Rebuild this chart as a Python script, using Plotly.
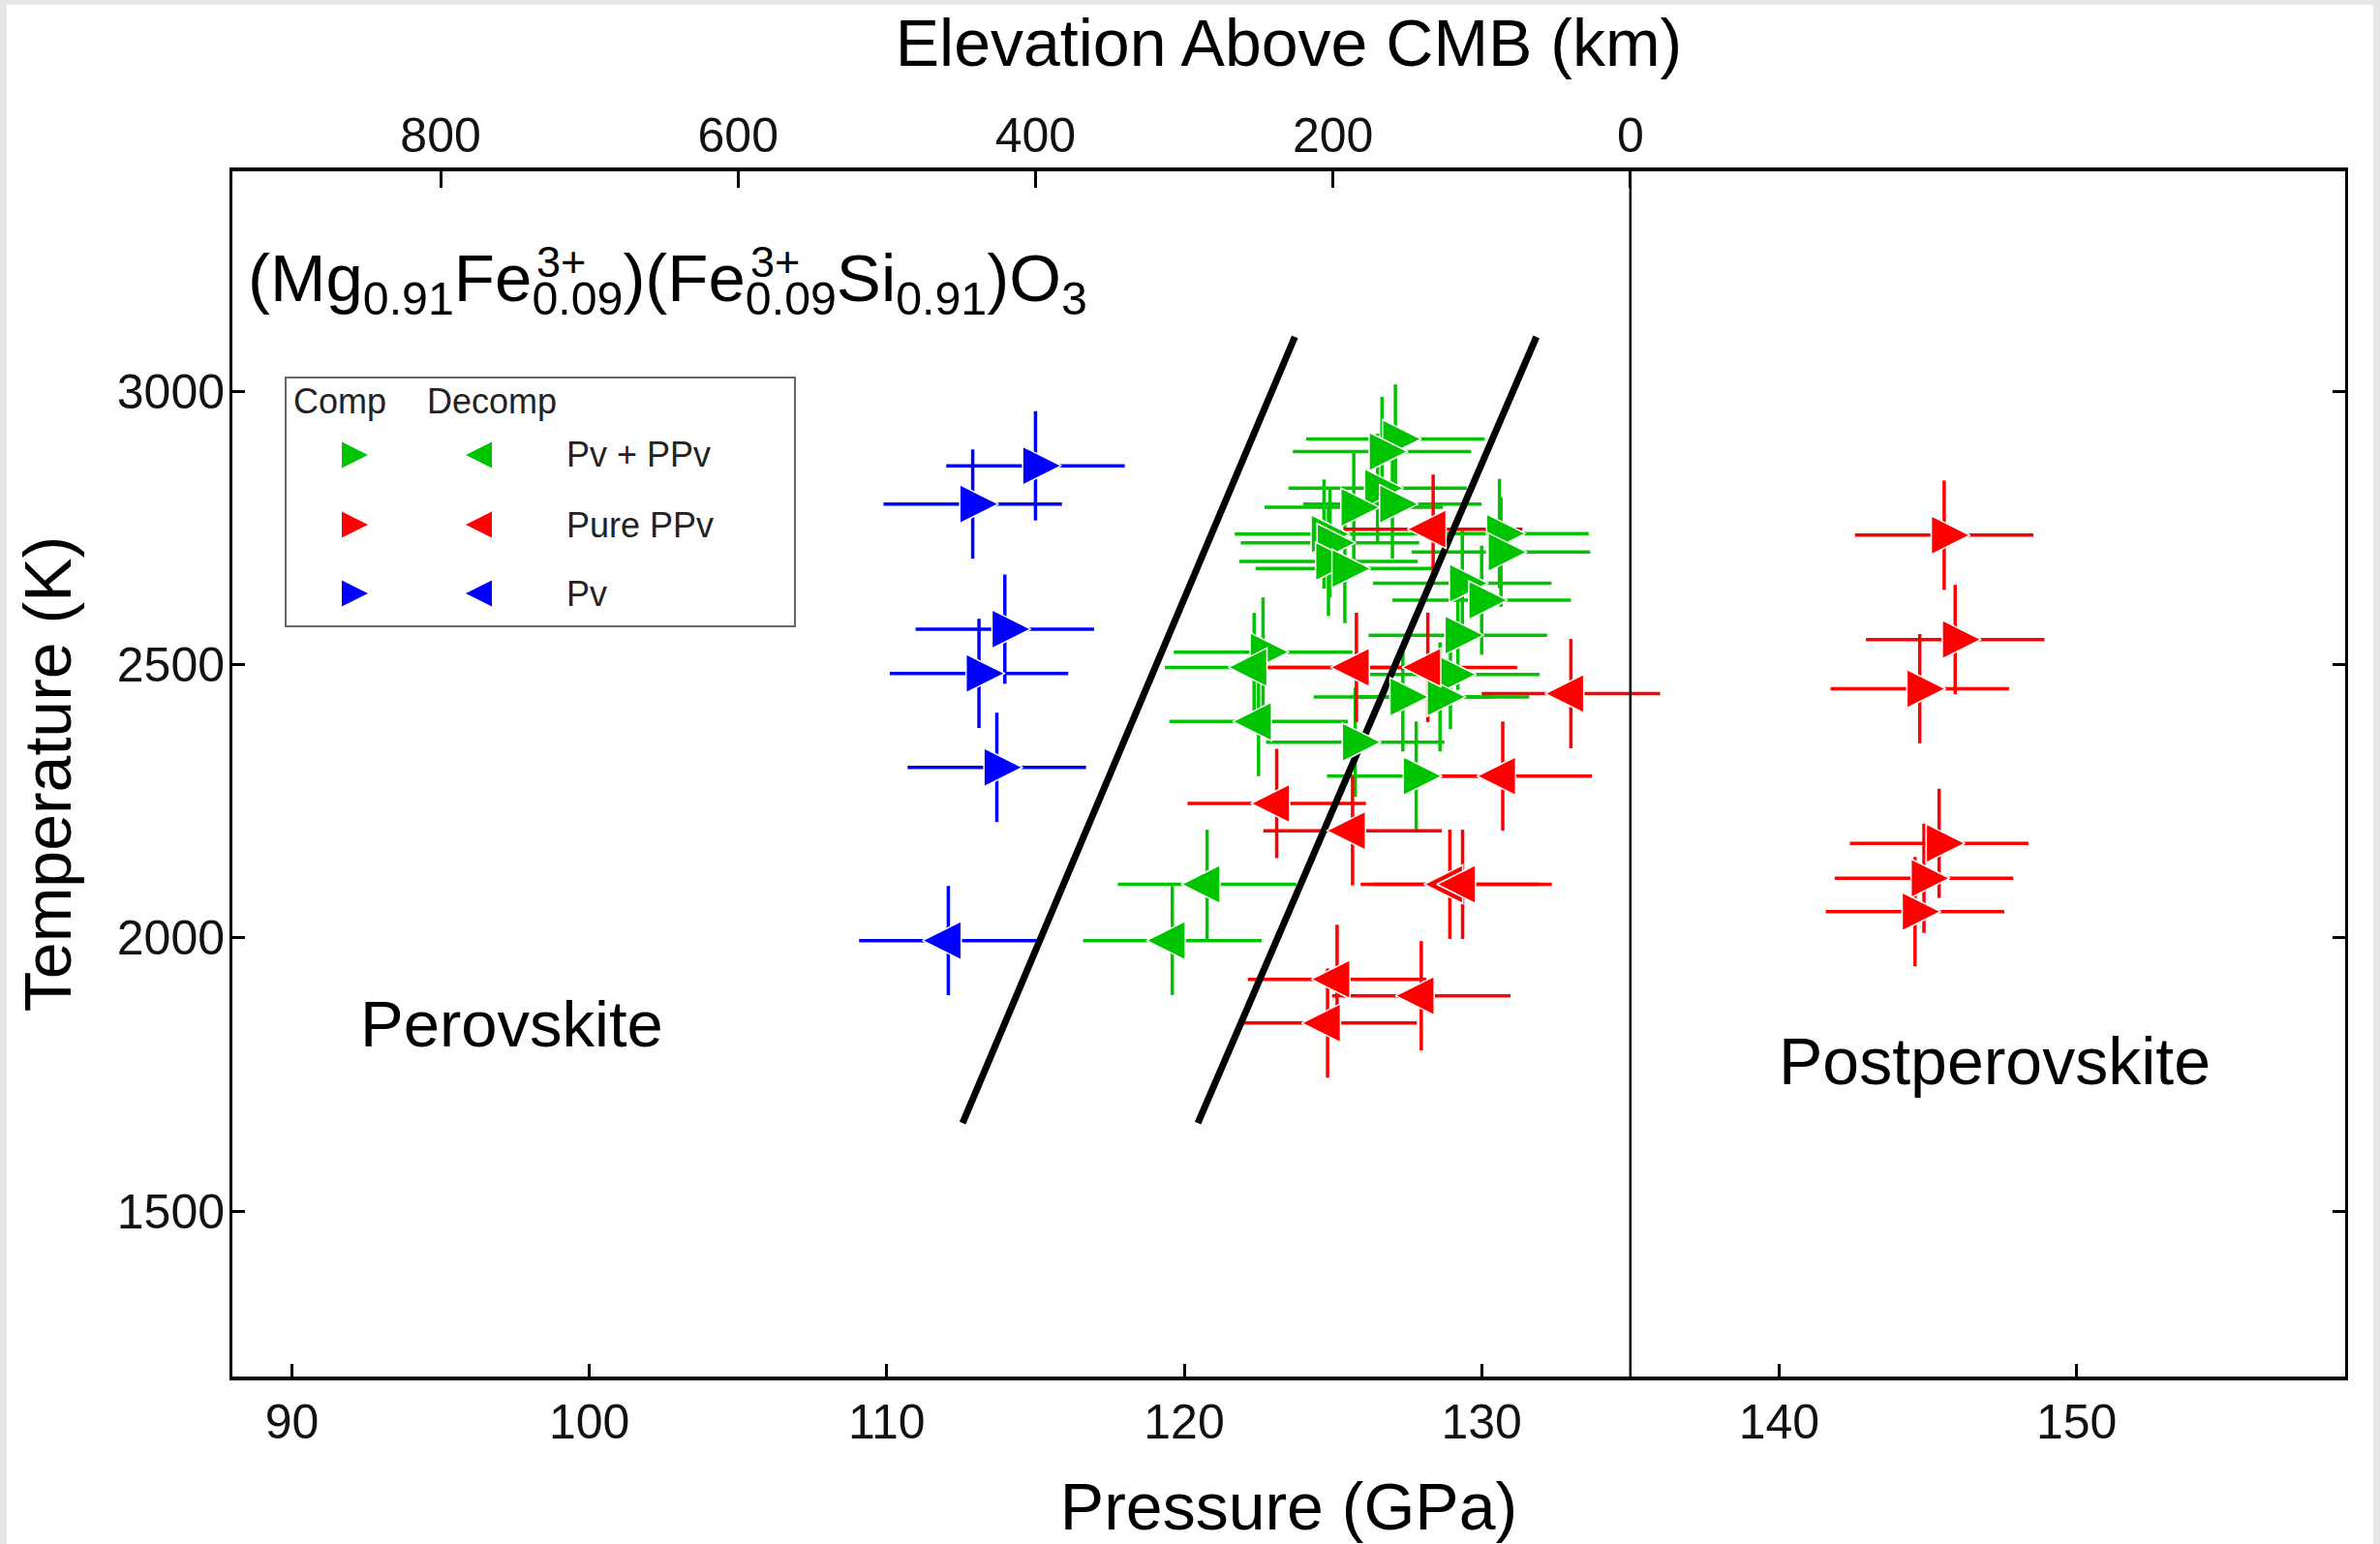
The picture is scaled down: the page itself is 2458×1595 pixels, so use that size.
import plotly.graph_objects as go

# ---------------- data ----------------
GREEN_COMP_P = [127.1, 126.65, 126.5, 127.0, 125.7, 124.7, 124.9, 124.85, 125.4, 130.6,
                130.65, 129.35, 130.0, 129.2, 122.65, 128.95, 127.35, 128.6, 125.75, 127.8]
GREEN_COMP_T = [2913, 2890, 2823, 2794, 2788, 2739, 2723, 2689, 2676, 2740,
                2706, 2649, 2618, 2554, 2523, 2482, 2441, 2441, 2358, 2296]
GREEN_DECOMP_P = [122.35, 122.5, 120.77, 119.6]
GREEN_DECOMP_T = [2495, 2396, 2098, 1995]

RED_COMP_P = [145.55, 145.92, 144.73, 145.38, 144.87, 144.57]
RED_COMP_T = [2737, 2546, 2456, 2173, 2109, 2048]
RED_DECOMP_P = [128.37, 125.79, 128.19, 133.0, 130.71, 123.11, 125.66, 128.93, 129.36,
                125.14, 127.97, 124.82]
RED_DECOMP_T = [2748, 2495, 2495, 2447, 2296, 2246, 2196, 2098, 2098, 1924, 1894, 1844]

BLUE_COMP_P = [115.0, 112.89, 113.97, 113.1, 113.7]
BLUE_COMP_T = [2864, 2794, 2565, 2484, 2312]
BLUE_DECOMP_P = [112.07]
BLUE_DECOMP_T = [1995]

P_ERR = 3.0      # GPa
T_ERR = 100.0    # K

BOUND1_P = [112.55, 123.72]
BOUND1_T = [1661, 3100]
BOUND2_P = [120.46, 131.84]
BOUND2_T = [1661, 3100]

CMB_P = 135.0
CMB_ELEV = [0, 0]
KM_PER_GPA = 20.0

X_RANGE = [88.0, 159.03]
Y_RANGE = [1197, 3403]
X_TICKS = [90, 100, 110, 120, 130, 140, 150]
Y_TICKS = [1500, 2000, 2500, 3000]
ELEV_TICKS = [800, 600, 400, 200, 0]

LEGEND_ROWS = ["Pv + PPv", "Pure PPv", "Pv"]

GREEN = "#00C400"
RED = "#FF0000"
BLUE = "#0000FF"
LEGEND_COLORS = [GREEN, RED, BLUE]

# ---------------- layout geometry ----------------
W, H = 2458, 1595
M_L, M_R, M_T, M_B = 240, 36, 177, 173
PLOT_W = W - M_L - M_R
PLOT_H = H - M_T - M_B
FONT = "Liberation Sans, Arial, Helvetica, sans-serif"

MARKER_SIZE = 40
LEG_MARKER_SIZE = 27
px_per_gpa = PLOT_W / (X_RANGE[1] - X_RANGE[0])
# arrow markers have their tip on the data point; shift so the centroid sits on it
shift = (4.0 / 3.0) * (MARKER_SIZE / 2.0) / px_per_gpa


def pxx(X):
    return (X - M_L) / PLOT_W


def pxy(Y):
    return (H - M_B - Y) / PLOT_H


fig = go.Figure()

series = [
    (GREEN_COMP_P, GREEN_COMP_T, GREEN, "comp"),
    (GREEN_DECOMP_P, GREEN_DECOMP_T, GREEN, "decomp"),
    (RED_COMP_P, RED_COMP_T, RED, "comp"),
    (RED_DECOMP_P, RED_DECOMP_T, RED, "decomp"),
    (BLUE_COMP_P, BLUE_COMP_T, BLUE, "comp"),
    (BLUE_DECOMP_P, BLUE_DECOMP_T, BLUE, "decomp"),
]

# error bars (main axes)
for P, T, c, kind in series:
    fig.add_trace(go.Scatter(
        x=P, y=T, mode="markers",
        marker=dict(size=1, color="rgba(0,0,0,0)"),
        error_x=dict(type="constant", value=P_ERR, color=c, thickness=3.5, width=0),
        error_y=dict(type="constant", value=T_ERR, color=c, thickness=3.5, width=0),
        showlegend=False, hoverinfo="skip", xaxis="x", yaxis="y"))

# phase boundaries
for BP, BT in [(BOUND1_P, BOUND1_T), (BOUND2_P, BOUND2_T)]:
    fig.add_trace(go.Scatter(x=BP, y=BT, mode="lines",
                             line=dict(color="black", width=7),
                             showlegend=False, hoverinfo="skip", xaxis="x", yaxis="y"))

# core-mantle boundary (elevation 0 on the top axis)
fig.add_trace(go.Scatter(x=CMB_ELEV, y=Y_RANGE, mode="lines", xaxis="x2", yaxis="y",
                         line=dict(color="black", width=2.5),
                         showlegend=False, hoverinfo="skip"))

# markers: compression (right-pointing) on x3, decompression (left-pointing) on x4
for P, T, c, kind in series:
    if kind == "comp":
        fig.add_trace(go.Scatter(
            x=P, y=T, mode="markers", xaxis="x3", yaxis="y",
            marker=dict(symbol="arrow-right", size=MARKER_SIZE, color=c,
                        line=dict(color="white", width=1.5)),
            showlegend=False))
for P, T, c, kind in series:
    if kind == "decomp":
        fig.add_trace(go.Scatter(
            x=P, y=T, mode="markers", xaxis="x4", yaxis="y",
            marker=dict(symbol="arrow-left", size=MARKER_SIZE, color=c,
                        line=dict(color="white", width=1.5)),
            showlegend=False))

# custom legend markers (paper-like overlay axes x5/y2)
leg_row_y = [pxy(470), pxy(542), pxy(613)]
leg_comp_tip = pxx(380)
leg_decomp_tip = pxx(481)
fig.add_trace(go.Scatter(
    x=[leg_comp_tip] * 3, y=leg_row_y, mode="markers", xaxis="x5", yaxis="y2",
    marker=dict(symbol="arrow-right", size=LEG_MARKER_SIZE, color=LEGEND_COLORS),
    showlegend=False, hoverinfo="skip", cliponaxis=False))
fig.add_trace(go.Scatter(
    x=[leg_decomp_tip] * 3, y=leg_row_y, mode="markers", xaxis="x5", yaxis="y2",
    marker=dict(symbol="arrow-left", size=LEG_MARKER_SIZE, color=LEGEND_COLORS),
    showlegend=False, hoverinfo="skip", cliponaxis=False))

axis_common = dict(showgrid=False, zeroline=False, automargin=False)

fig.update_layout(
    width=W, height=H, autosize=False,
    margin=dict(l=M_L, r=M_R, t=M_T, b=M_B, pad=0),
    paper_bgcolor="white", plot_bgcolor="white",
    font=dict(family=FONT, color="black"),
    showlegend=False,
    xaxis=dict(range=X_RANGE, tickvals=X_TICKS, ticks="inside", ticklen=13, tickwidth=2.5,
               tickcolor="black", showline=True, linewidth=4, linecolor="black", mirror=True,
               tickfont=dict(size=50, color="#111"), ticklabelstandoff=0,
               title=dict(text="Pressure (GPa)", font=dict(size=68), standoff=37),
               **axis_common),
    xaxis2=dict(overlaying="x", side="top", anchor="y",
                range=[(CMB_P - X_RANGE[0]) * KM_PER_GPA, (CMB_P - X_RANGE[1]) * KM_PER_GPA],
                tickvals=ELEV_TICKS, ticks="inside", ticklen=17, tickwidth=2.5,
                tickcolor="black", showline=False,
                tickfont=dict(size=50, color="#111"), ticklabelstandoff=9,
                title=dict(text="Elevation Above CMB (km)", font=dict(size=68), standoff=21),
                **axis_common),
    xaxis3=dict(overlaying="x", anchor="y", range=[X_RANGE[0] - shift, X_RANGE[1] - shift],
                visible=False, **axis_common),
    xaxis4=dict(overlaying="x", anchor="y", range=[X_RANGE[0] + shift, X_RANGE[1] + shift],
                visible=False, **axis_common),
    xaxis5=dict(overlaying="x", anchor="y2", range=[0, 1], visible=False, **axis_common),
    yaxis=dict(range=Y_RANGE, tickvals=Y_TICKS, ticks="inside", ticklen=13, tickwidth=2.5,
               tickcolor="black", showline=True, linewidth=3, linecolor="black", mirror="ticks",
               tickfont=dict(size=50, color="#111"), ticklabelstandoff=-5,
               title=dict(text="Temperature (K)", font=dict(size=68), standoff=25),
               **axis_common),
    yaxis2=dict(overlaying="y", anchor="x5", range=[0, 1], visible=False, **axis_common),
)

shapes = [
    # legend box
    dict(type="rect", xref="paper", yref="paper", x0=pxx(295), x1=pxx(821),
         y0=pxy(647), y1=pxy(390), line=dict(color="#666666", width=2),
         fillcolor="white", layer="below"),
    # light grey frame of the picture
    dict(type="rect", xref="paper", yref="paper", x0=pxx(0), x1=pxx(W), y0=pxy(5), y1=pxy(0),
         line=dict(width=0), fillcolor="#e6e6e6"),
    dict(type="rect", xref="paper", yref="paper", x0=pxx(0), x1=pxx(7), y0=pxy(H), y1=pxy(0),
         line=dict(width=0), fillcolor="#e6e6e6"),
    dict(type="rect", xref="paper", yref="paper", x0=pxx(W - 7), x1=pxx(W), y0=pxy(H), y1=pxy(0),
         line=dict(width=0), fillcolor="#e6e6e6"),
]
fig.update_layout(shapes=shapes)

ann = []
# chemical formula (superscripts stacked above the Fe subscripts)
ann.append(dict(xref="paper", yref="paper", x=pxx(254), y=pxy(292), xanchor="left",
                yanchor="middle", showarrow=False,
                text="(Mg<sub>0.91</sub>Fe<sub>0.09</sub>)(Fe<sub>0.09</sub>Si<sub>0.91</sub>)O<sub>3</sub>",
                font=dict(size=69, color="black", family=FONT)))
for xs in [552, 773]:
    ann.append(dict(xref="paper", yref="paper", x=pxx(xs), y=pxy(271), xanchor="left",
                    yanchor="middle", showarrow=False, text="3+",
                    font=dict(size=45, color="black", family=FONT)))
# phase labels
ann.append(dict(xref="x", yref="y", x=97.39, y=1842, xanchor="center", yanchor="middle",
                showarrow=False, text="Perovskite", font=dict(size=67, color="black")))
ann.append(dict(xref="x", yref="y", x=147.23, y=1774, xanchor="center", yanchor="middle",
                showarrow=False, text="Postperovskite", font=dict(size=68, color="black")))
# legend texts
ann.append(dict(xref="paper", yref="paper", x=pxx(301), y=pxy(414), xanchor="left",
                yanchor="middle", showarrow=False, text="Comp",
                font=dict(size=36, color="#222")))
ann.append(dict(xref="paper", yref="paper", x=pxx(439), y=pxy(414), xanchor="left",
                yanchor="middle", showarrow=False, text="Decomp",
                font=dict(size=36, color="#222")))
for i, lab in enumerate(LEGEND_ROWS):
    ann.append(dict(xref="paper", yref="paper", x=pxx(583), y=leg_row_y[i], xanchor="left",
                    yanchor="middle", showarrow=False, text=lab,
                    font=dict(size=36, color="#222")))
fig.update_layout(annotations=ann)

fig.write_html("out.html", config={"displayModeBar": False},
               post_script="document.body.style.margin='0px';document.body.style.overflow='hidden';")
